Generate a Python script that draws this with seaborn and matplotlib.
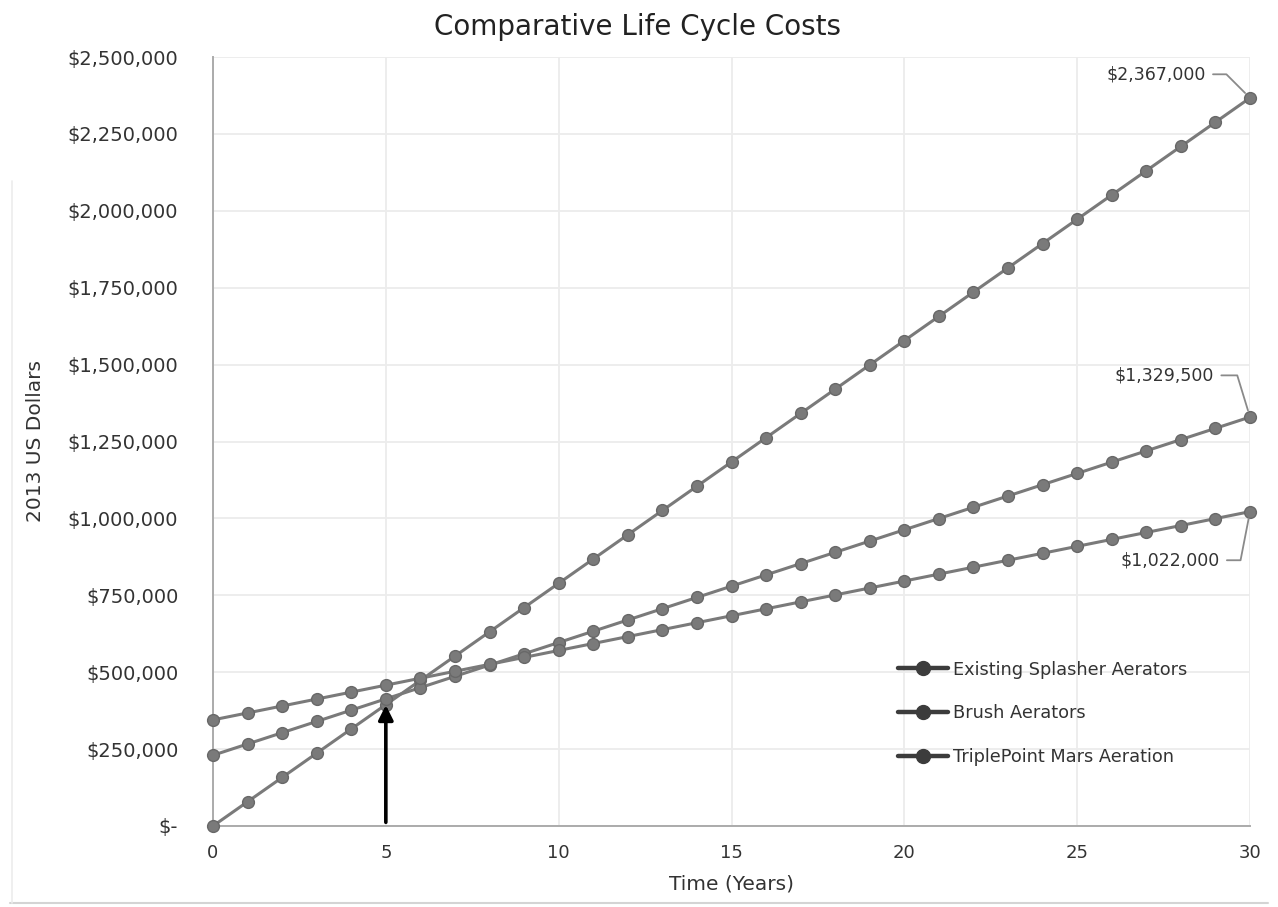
import matplotlib
matplotlib.use("Agg")
import matplotlib.pyplot as plt
import seaborn as sns
import pandas as pd
from matplotlib.ticker import FuncFormatter, MultipleLocator
from matplotlib.lines import Line2D

years = list(range(0, 31))
existing_splasher = [0, 78900, 157800, 236700, 315600, 394500, 473400, 552300, 631200, 710100,
                     789000, 867900, 946800, 1025700, 1104600, 1183500, 1262400, 1341300, 1420200,
                     1499100, 1578000, 1656900, 1735800, 1814700, 1893600, 1972500, 2051400,
                     2130300, 2209200, 2288100, 2367000]
brush = [230000, 266650, 303300, 339950, 376600, 413250, 449900, 486550, 523200, 559850,
         596500, 633150, 669800, 706450, 743100, 779750, 816400, 853050, 889700, 926350,
         963000, 999650, 1036300, 1072950, 1109600, 1146250, 1182900, 1219550, 1256200,
         1292850, 1329500]
triplepoint = [345000, 367567, 390133, 412700, 435267, 457833, 480400, 502967, 525533, 548100,
               570667, 593233, 615800, 638367, 660933, 683500, 706067, 728633, 751200, 773767,
               796333, 818900, 841467, 864033, 886600, 909167, 931733, 954300, 976867, 999433,
               1022000]
series_names = ["Existing Splasher Aerators", "Brush Aerators", "TriplePoint Mars Aeration"]
breakeven_year = 5
breakeven_value = 393000

sns.set_theme(style="white")
plt.rcParams['font.family'] = ['DejaVu Sans']

df = pd.DataFrame({
    "Year": years * 3,
    "Cost": existing_splasher + brush + triplepoint,
    "Series": [series_names[0]] * 31 + [series_names[1]] * 31 + [series_names[2]] * 31,
})

fig = plt.figure(figsize=(12.78, 9.07), dpi=100)
ax = fig.add_axes([213 / 1278, 81 / 907, 1037 / 1278, 769 / 907])

line_color = "#7a7a7a"
sns.lineplot(data=df, x="Year", y="Cost", hue="Series", palette=[line_color] * 3,
             marker="o", markersize=8.5, markeredgecolor="#686868", markeredgewidth=1.0,
             linewidth=2.2, ax=ax, legend=False, zorder=3)
for l in ax.lines:
    l.set_clip_on(False)

ax.set_xlim(0, 30)
ax.set_ylim(0, 2500000)
ax.xaxis.set_major_locator(MultipleLocator(5))
ax.yaxis.set_major_locator(MultipleLocator(250000))

def dollars(v, pos):
    if v == 0:
        return "$-"
    return "${:,.0f}".format(v)

ax.yaxis.set_major_formatter(FuncFormatter(dollars))
ax.grid(True, color="#ececec", linewidth=1.3)
for s in ["top", "right"]:
    ax.spines[s].set_visible(False)
for s in ["left", "bottom"]:
    ax.spines[s].set_color("#ababab")
    ax.spines[s].set_linewidth(1.4)
ax.tick_params(axis="x", length=0, labelsize=13, colors="#333333", pad=13)
ax.tick_params(axis="y", length=0, labelsize=14, colors="#333333", pad=25)

fig.text(0.4985, 1 - 27 / 907, "Comparative Life Cycle Costs", fontsize=20,
         color="#222222", ha="center", va="center")
ax.set_xlabel("Time (Years)", fontsize=14.5, color="#333333", labelpad=9)
ax.set_ylabel("2013 US Dollars", fontsize=14.5, color="#333333", labelpad=16)

# Arrow at break-even
ax.annotate("", xy=(breakeven_year, breakeven_value), xytext=(breakeven_year, 12000),
            arrowprops=dict(arrowstyle="-|>", color="black", lw=2.6, mutation_scale=22,
                            shrinkA=0, shrinkB=0),
            zorder=5)

# End data labels with leader lines
def end_label(value, dx, dy, angle_b):
    ax.annotate("${:,.0f}".format(value), xy=(years[-1], value), xytext=(dx, dy),
                textcoords="offset points", ha="right", va="center",
                fontsize=12.5, color="#333333",
                arrowprops=dict(arrowstyle="-", color="#8a8a8a", lw=1.3,
                                shrinkA=3, shrinkB=5,
                                connectionstyle="angle,angleA=0,angleB={},rad=0".format(angle_b)))

end_label(existing_splasher[-1], -32, 17, 135)
end_label(brush[-1], -26, 30, 107)
end_label(triplepoint[-1], -22, -35, 79)

handles = [Line2D([0], [0], color="#3c3c3c", lw=3.2, marker="o", markersize=10,
                  markerfacecolor="#3c3c3c", markeredgecolor="#3c3c3c") for _ in series_names]
leg = ax.legend(handles, series_names, loc="upper left", bbox_to_anchor=(0.645, 0.236),
                frameon=False, fontsize=12.8, handlelength=2.8, handletextpad=0.3,
                labelspacing=1.45, labelcolor="#333333")

# faint scan frame
fig.add_artist(Line2D([0.008, 0.992], [0.004, 0.004], transform=fig.transFigure,
                      color="#d4d4d4", lw=1.5))
fig.add_artist(Line2D([0.009, 0.009], [0.004, 0.80], transform=fig.transFigure,
                      color="#ececec", lw=1.2))

fig.savefig("out.png", dpi=100, facecolor="white")
